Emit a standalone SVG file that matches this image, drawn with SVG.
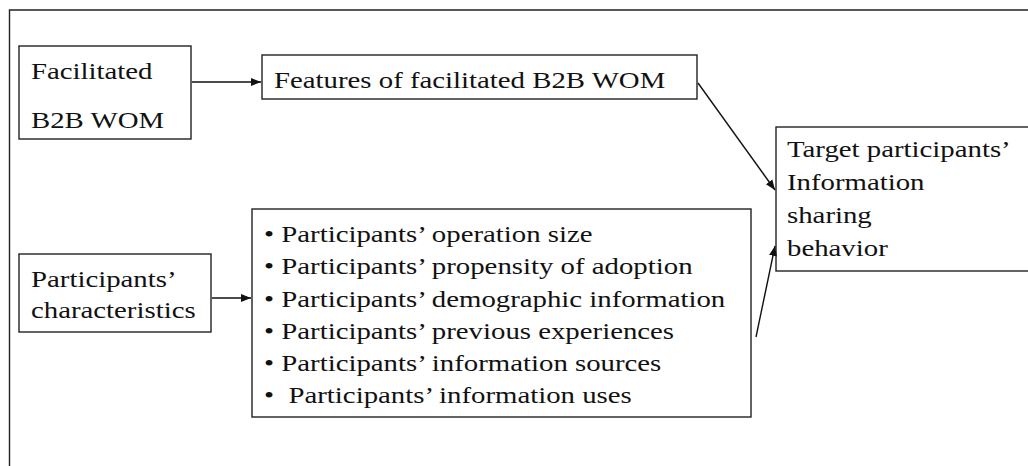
<svg xmlns="http://www.w3.org/2000/svg" width="1028" height="466" viewBox="0 0 1028 466">
<style>
.box{fill:#fff;stroke:#222;stroke-width:1.4}
.t{font-family:"Liberation Serif","Times New Roman",serif;font-size:24px;fill:#111}
.c{stroke:#111;stroke-width:1.4;fill:none}
</style>
<defs>
<marker id="ah" viewBox="0 0 10 10" refX="10" refY="5" markerWidth="10" markerHeight="10" markerUnits="userSpaceOnUse" orient="auto">
<path d="M0,1 L10,5 L0,9 Z" fill="#111"/>
</marker>
</defs>
<rect width="1028" height="466" fill="#fff"/>
<path d="M9.5,466 V10 H1028" fill="none" stroke="#222" stroke-width="1.4"/>
<g id="n-facilitated">
<rect class="box" x="19" y="46" width="172" height="93"/>
<text class="t" transform="matrix(1.2 0 0 1 31 79)">Facilitated</text>
<text class="t" transform="matrix(1.2 0 0 1 31 128)">B2B WOM</text>
</g>
<g id="n-features">
<rect class="box" x="262" y="55" width="435" height="44"/>
<text class="t" transform="matrix(1.2 0 0 1 274 88)">Features of facilitated B2B WOM</text>
</g>
<g id="n-target">
<rect class="box" x="776" y="127" width="260" height="144"/>
<text class="t" transform="matrix(1.2 0 0 1 787 157)">Target participants’</text>
<text class="t" transform="matrix(1.2 0 0 1 787 190)">Information</text>
<text class="t" transform="matrix(1.2 0 0 1 787 223)">sharing</text>
<text class="t" transform="matrix(1.2 0 0 1 787 256)">behavior</text>
</g>
<g id="n-characteristics">
<rect class="box" x="19" y="254" width="192" height="78"/>
<text class="t" transform="matrix(1.2 0 0 1 31 287)">Participants’</text>
<text class="t" transform="matrix(1.2 0 0 1 31 318)">characteristics</text>
</g>
<g id="n-list">
<rect class="box" x="252" y="209" width="499" height="208"/>
<text class="t" transform="matrix(1.2 0 0 1 264 242)">• Participants’ operation size</text>
<text class="t" transform="matrix(1.2 0 0 1 264 274)">• Participants’ propensity of adoption</text>
<text class="t" transform="matrix(1.2 0 0 1 264 307)">• Participants’ demographic information</text>
<text class="t" transform="matrix(1.2 0 0 1 264 339)">• Participants’ previous experiences</text>
<text class="t" transform="matrix(1.2 0 0 1 264 371)">• Participants’ information sources</text>
<text class="t" transform="matrix(1.2 0 0 1 264 403)" xml:space="preserve">•  Participants’ information uses</text>
</g>
<g id="connectors">
<line class="c" x1="192" y1="82" x2="261" y2="82" marker-end="url(#ah)"/>
<line class="c" x1="698" y1="83" x2="775" y2="190" marker-end="url(#ah)"/>
<line class="c" x1="212" y1="298" x2="251" y2="298" marker-end="url(#ah)"/>
<line class="c" x1="756" y1="337" x2="775" y2="246" marker-end="url(#ah)"/>
</g>
</svg>
